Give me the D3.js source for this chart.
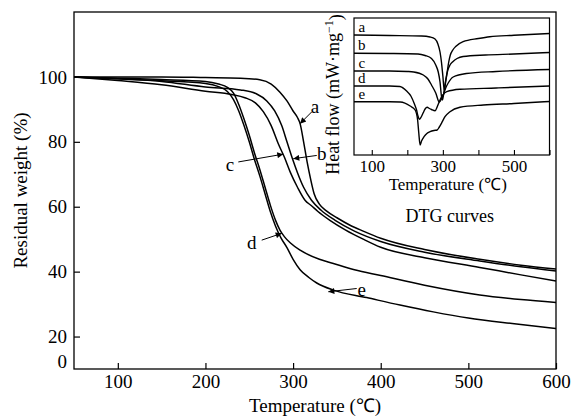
<!DOCTYPE html>
<html>
<head>
<meta charset="utf-8">
<script src="https://cdn.jsdelivr.net/npm/d3@7"></script>
<style>
  body { margin: 0; background: #fff; }
  svg { display: block; }
  text { font-family: "Times New Roman", "Liberation Serif", serif; fill: #000; }
</style>
</head>
<body>
<svg id="chart" width="571" height="418"></svg>
<script>
// TG curves: [temperature (°C), residual weight (%)]
const tgA = [[50,100],[150,100],[200,99.8],[240,99.6],[262,99.1],[275,97.8],[285,95.3],[293,92.6],[300,89.5],[305,87.5],[308,85.6],[312,80],[316,73.8],[320,68.5],[324,64],[330,60.8],[338,58.7],[350,56.6],[365,54.3],[380,52.5],[400,50.3],[450,46.8],[513,43.8],[560,42],[600,40.8]];
const tgB = [[50,100],[100,99.4],[150,98.6],[200,96.9],[240,96],[258,94.8],[270,92.6],[279,89.5],[287,85],[293,80],[299,75],[305,70.5],[312,66],[321,62],[332,58.9],[348,55.8],[370,52.5],[400,49.3],[450,46],[513,43.3],[560,41.5],[600,40.2]];
const tgC = [[50,100],[100,98.9],[150,97.6],[200,95.6],[230,94.6],[245,93.6],[257,92],[266,89.3],[275,85],[283,79.5],[290,75.3],[297,70.5],[305,66],[313.6,62],[321,60.3],[328,58.6],[342,55.8],[360,52.8],[380,50],[400,47.5],[450,44.3],[513,41.3],[560,39],[600,37.1]];
const tgD = [[50,100],[100,99.6],[150,99.2],[200,98.6],[215,97.8],[225,96.8],[232,95],[238,91.5],[244,87],[250,82],[256,76.5],[262,71.5],[268,66],[274,60.5],[280,55.8],[285,52.8],[290,50.8],[297,48.8],[308,46.6],[330,43.8],[346,42.5],[370,40.6],[400,38.8],[450,35.8],[513,32.8],[560,31.4],[600,30.5]];
const tgE = [[50,100],[100,99.4],[150,98.8],[200,98],[215,97],[225,95.5],[232,93],[238,89.5],[244,85],[250,80],[256,74.5],[262,69.5],[268,64],[274,58.5],[280,54],[286,50.5],[293,47.4],[300,43.8],[308,40.6],[318,38.2],[327,36.5],[346,34.3],[384,32],[422,29.7],[460,27.6],[500,25.7],[550,24],[600,22.5]];

// DTG curves (inset): [temperature (°C), heat flow (arbitrary, stacked)]
const dtgA = [[50,120],[150,119.5],[240,119],[264,118],[278,116],[286,111],[292,103],[296,93],[300,79],[304,64.5],[307,71],[311,80],[316,92],[321,100],[328,105],[336,108.5],[357,113.3],[400,116.5],[432,118.3],[500,119.7],[600,121.5]];
const dtgB = [[50,101.7],[150,101.5],[230,101],[250,99.5],[268,96.5],[280,90],[287,83],[292,73],[296,59],[299,55],[303,63],[308,75],[314,85],[320,90],[328,93.3],[340,96.5],[357,98.5],[420,100],[500,101],[600,102.5]];
const dtgC = [[50,84],[150,84],[200,83.5],[218,83],[245,80],[258,76],[268,70],[280,62],[290,53],[296,56],[301,60],[308,67],[315,72],[329,78],[366,81.5],[450,83.5],[600,85.5]];
const dtgD = [[50,69],[150,69],[179,68.5],[198,64],[210,59],[220,51],[226,45],[230,39],[234,35.7],[239,38],[245,42.5],[250,46],[256,47.7],[262,46.5],[268,45.5],[278,44.3],[285,49],[292,55],[300,60],[311,63.3],[348,65.7],[450,67],[600,69]];
const dtgE = [[50,53.3],[150,53.3],[180,53],[208,49],[222,45],[229,35],[232,23],[236,10],[240,14],[247,18.3],[255,21.5],[264,23.3],[275,24.5],[284,25],[290,28],[296,31.7],[306,38.3],[320,43.3],[348,47.7],[414,50],[500,51.5],[600,53.5]];

const curveNames = ["a", "b", "c", "d", "e"];
const xTicks = [100, 200, 300, 400, 500, 600];
const yTicks = [20, 40, 60, 80, 100];
const insetTickLabels = [100, 300, 500];

// label position [T, w], arrow start [T, w], arrow tip [T, w]
const callouts = [
  { name: "a", label: [325, 90.7], from: [321.2, 89.2], to: [307.9, 85.6] },
  { name: "b", label: [332.6, 76.4], from: [327, 75.8], to: [300.2, 74.8] },
  { name: "c", label: [228, 72.8], from: [237.5, 73.8], to: [288.8, 76.2] },
  { name: "d", label: [252.8, 48.7], from: [264.2, 49.7], to: [287, 51.8] },
  { name: "e", label: [378.3, 34.3], from: [372.6, 34.8], to: [340.2, 33.8] }
];

const svg = d3.select("#chart");

// ---------- main plot ----------
const m = { left: 74, top: 12, right: 556, bottom: 369 };
const x = d3.scaleLinear().domain([50, 600]).range([m.left, m.right]);
const y = d3.scaleLinear().domain([10, 120]).range([m.bottom, m.top]);

svg.append("defs").append("marker")
  .attr("id", "arrow")
  .attr("viewBox", "0 0 10 10")
  .attr("refX", 10).attr("refY", 5)
  .attr("markerWidth", 8).attr("markerHeight", 6)
  .attr("markerUnits", "userSpaceOnUse")
  .attr("orient", "auto")
  .append("path").attr("d", "M0,0 L10,5 L0,10 Z").attr("fill", "#000");

const xAxis = svg.append("g")
  .attr("transform", `translate(0,${m.bottom})`)
  .call(d3.axisBottom(x).tickValues(xTicks).tickSizeInner(-6).tickSizeOuter(0).tickPadding(6));
xAxis.select(".domain").remove();
xAxis.selectAll("line").attr("stroke", "#000").attr("stroke-width", 1.2);
xAxis.selectAll("text").attr("font-size", 19).attr("font-family", '"Times New Roman", "Liberation Serif", serif');

const yAxis = svg.append("g")
  .attr("transform", `translate(${m.left},0)`)
  .call(d3.axisLeft(y).tickValues(yTicks).tickSizeInner(-6).tickSizeOuter(0).tickPadding(7));
yAxis.select(".domain").remove();
yAxis.selectAll("line").attr("stroke", "#000").attr("stroke-width", 1.2);
yAxis.selectAll("text").attr("font-size", 19).attr("font-family", '"Times New Roman", "Liberation Serif", serif');
// broken axis: bottom of the axis is labelled 0
svg.append("text")
  .attr("x", m.left - 7).attr("y", y(10) - 1)
  .attr("text-anchor", "end")
  .attr("font-size", 19)
  .text("0");

svg.append("rect")
  .attr("x", m.left).attr("y", m.top)
  .attr("width", m.right - m.left).attr("height", m.bottom - m.top)
  .attr("fill", "none").attr("stroke", "#000").attr("stroke-width", 1.3);

const line = d3.line()
  .curve(d3.curveMonotoneX)
  .x(d => x(d[0]))
  .y(d => y(d[1]));

svg.append("g")
  .selectAll("path")
  .data([tgA, tgB, tgC, tgD, tgE])
  .enter()
  .append("path")
  .attr("d", d => line(d))
  .attr("fill", "none")
  .attr("stroke", "#000")
  .attr("stroke-width", 1.5);

const notes = svg.append("g");
notes.selectAll("line")
  .data(callouts)
  .enter()
  .append("line")
  .attr("x1", d => x(d.from[0])).attr("y1", d => y(d.from[1]))
  .attr("x2", d => x(d.to[0])).attr("y2", d => y(d.to[1]))
  .attr("stroke", "#000")
  .attr("stroke-width", 1)
  .attr("marker-end", "url(#arrow)");
notes.selectAll("text")
  .data(callouts)
  .enter()
  .append("text")
  .attr("x", d => x(d.label[0])).attr("y", d => y(d.label[1]))
  .attr("dy", "0.32em")
  .attr("text-anchor", "middle")
  .attr("font-size", 19)
  .text(d => d.name);

svg.append("text")
  .attr("transform", `translate(20,${(m.top + m.bottom) / 2}) rotate(-90)`)
  .attr("text-anchor", "middle")
  .attr("dy", "0.35em")
  .attr("font-size", 19)
  .text("Residual weight (%)");

svg.append("text")
  .attr("x", (m.left + m.right) / 2).attr("y", 412)
  .attr("text-anchor", "middle")
  .attr("font-size", 19)
  .text("Temperature (℃)");

// ---------- inset (DTG) ----------
const n = { left: 354, top: 18, right: 549.5, bottom: 155 };
const ix = d3.scaleLinear().domain([50, 600]).range([n.left, n.right]);
const iy = d3.scaleLinear().domain([0, 137]).range([n.bottom, n.top]);

const inset = svg.append("g");
inset.append("rect")
  .attr("x", n.left).attr("y", n.top)
  .attr("width", n.right - n.left).attr("height", n.bottom - n.top)
  .attr("fill", "#fff").attr("stroke", "#000").attr("stroke-width", 1.2);

const ixAxis = inset.append("g")
  .attr("transform", `translate(0,${n.bottom})`)
  .call(d3.axisBottom(ix).tickValues(xTicks).tickSizeInner(-5).tickSizeOuter(0).tickPadding(5)
    .tickFormat(d => insetTickLabels.includes(d) ? d : ""));
ixAxis.select(".domain").remove();
ixAxis.selectAll("line").attr("stroke", "#000").attr("stroke-width", 1.1);
ixAxis.selectAll("text").attr("font-size", 17).attr("font-family", '"Times New Roman", "Liberation Serif", serif');

const iline = d3.line()
  .curve(d3.curveMonotoneX)
  .x(d => ix(d[0]))
  .y(d => iy(d[1]));

const dtgSeries = [dtgA, dtgB, dtgC, dtgD, dtgE];
inset.append("g")
  .selectAll("path")
  .data(dtgSeries)
  .enter()
  .append("path")
  .attr("d", d => iline(d))
  .attr("fill", "none")
  .attr("stroke", "#000")
  .attr("stroke-width", 1.4);

inset.append("g")
  .selectAll("text")
  .data(dtgSeries)
  .enter()
  .append("text")
  .attr("x", ix(72))
  .attr("y", d => iy(d[0][1]) - 3)
  .attr("text-anchor", "middle")
  .attr("font-size", 15)
  .text((d, i) => curveNames[i]);

const hf = inset.append("text")
  .attr("transform", `translate(333,${(n.top + n.bottom) / 2 + 8}) rotate(-90)`)
  .attr("text-anchor", "middle")
  .attr("dy", "0.35em")
  .attr("font-size", 18);
hf.append("tspan").text("Heat flow (mW·mg");
hf.append("tspan").attr("dy", "-0.5em").attr("font-size", 12).text("−1");
hf.append("tspan").attr("dy", "0.5em").text(")");

inset.append("text")
  .attr("x", (n.left + n.right) / 2 - 4).attr("y", 190)
  .attr("text-anchor", "middle")
  .attr("font-size", 17)
  .text("Temperature (℃)");

inset.append("text")
  .attr("x", (n.left + n.right) / 2 - 2).attr("y", 222)
  .attr("text-anchor", "middle")
  .attr("font-size", 18)
  .text("DTG curves");
</script>
</body>
</html>
